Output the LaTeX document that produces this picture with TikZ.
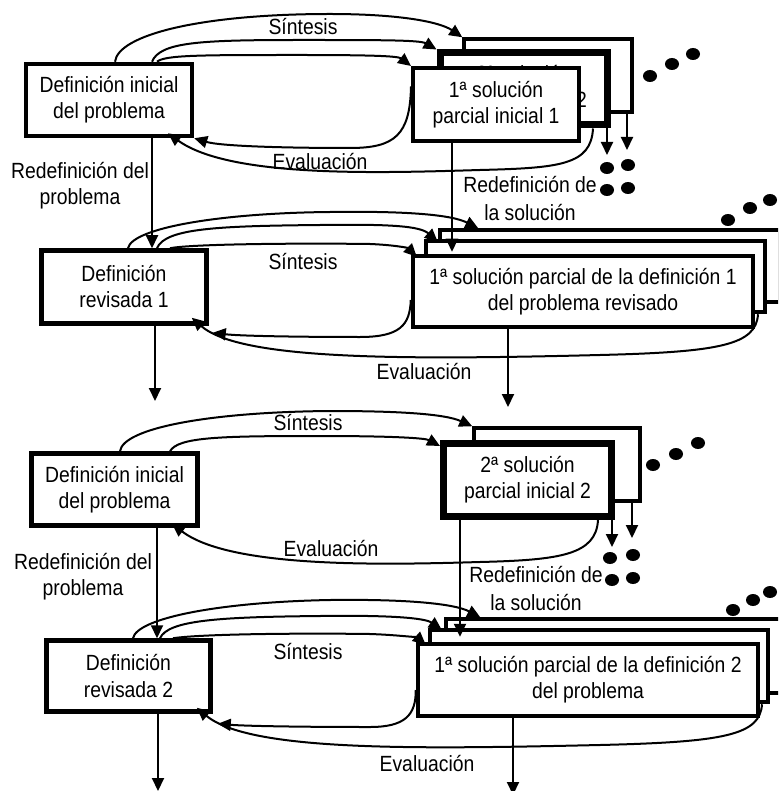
\documentclass[tikz,border=0pt]{standalone}
\usepackage{fontspec}
\setmainfont{Liberation Sans}[FakeStretch=0.88]
\usetikzlibrary{arrows.meta}
\begin{document}
\begin{tikzpicture}[x=1pt,y=-1pt,
  every node/.style={font=\fontsize{22pt}{26pt}\selectfont},
  box/.style={draw,fill=white,inner sep=0pt,align=center,line width=4.5pt},
  lbl/.style={inner sep=0pt,align=center},
  con/.style={line width=2pt,-{Triangle[length=13pt,width=12pt]}},
  ln/.style={line width=2pt},
  dotf/.style={fill=black}
]
\useasboundingbox (0,0) rectangle (778,791);
\clip (0,0) rectangle (778,791);

% ---------------- boxes ----------------
% panel 1
\node[box,minimum width=166pt,minimum height=72pt] (A) at (109,100) {Definición inicial\\del problema};
\node[box,line width=3.5pt,minimum width=168pt,minimum height=73pt] (S3) at (548,75.5) {3ª solución\\parcial inicial 3};
\node[box,line width=7pt,minimum width=167pt,minimum height=72pt] (S2) at (523.5,89) {2ª solución\\parcial inicial 2};
\node[box,line width=4pt,minimum width=166pt,minimum height=73pt] (S1) at (496,104.5) {1ª solución\\parcial inicial 1};
% panel 2
\node[box,minimum width=165pt,minimum height=73pt] (B) at (124,287) {Definición\\revisada 1};
\node[box,line width=3.5pt,minimum width=340pt,minimum height=72pt] (D3) at (610,266) {};
\node[box,minimum width=339pt,minimum height=71pt] (D2) at (595.5,276.5) {};
\node[box,minimum width=340pt,minimum height=71pt] (D1) at (583,291.5) {1ª solución parcial de la definición 1\\del problema revisado};
% panel 3
\node[box,minimum width=166pt,minimum height=72pt] (E) at (114.5,489.5) {Definición inicial\\del problema};
\node[box,line width=3.5pt,minimum width=166pt,minimum height=73pt] (F2) at (557,464.5) {};
\node[box,line width=7pt,minimum width=168pt,minimum height=73pt] (F1) at (527.5,480) {2ª solución\\parcial inicial 2};
% panel 4
\node[box,minimum width=164pt,minimum height=71pt] (G) at (128.5,676) {Definición\\revisada 2};
\node[box,line width=3.5pt,minimum width=335pt,minimum height=74pt] (H3) at (613.5,656) {};
\node[box,minimum width=338pt,minimum height=72pt] (H2) at (599,666) {};
\node[box,minimum width=340pt,minimum height=72pt] (H1) at (588,680) {1ª solución parcial de la definición 2\\del problema};

% free ends
\coordinate (s2d) at (607,155);
\coordinate (s3d) at (627,150);
\coordinate (bd) at (155,401);
\coordinate (d1d) at (508,407);
\coordinate (f1d) at (612,547);
\coordinate (f2d) at (632,538);
\coordinate (gd) at (158,791);
\coordinate (h1d) at (513,795);

% ---------------- panel 1 connectors ----------------
\draw[con] ([xshift=6pt]A.north) .. controls (118,35) and (200,14) .. (330,14) .. controls (400,14) and (440,22) .. (S3.north west);
\draw[con] ([xshift=43pt]A.north) .. controls (160,42) and (200,40) .. (300,40) .. controls (380,40) and (420,40) .. (S2.north west);
\draw[con] ([xshift=48pt]A.north) .. controls (165,55) and (200,55) .. (300,55) .. controls (370,55) and (398,56) .. (S1.north west);
\draw[con] ([yshift=18pt]S1.west) .. controls (410,135) and (395,148) .. (350,148) .. controls (280,148) and (220,146) .. (A.south east);
\draw[con] ([xshift=-17.5pt]S2.south east) .. controls (591,165) and (560,168) .. (480,170) .. controls (380,173) and (230,178) .. ([xshift=59pt,yshift=5pt]A.south);
\draw[con] ([xshift=43pt]A.south) -- ([xshift=28pt]B.north);
\draw[con] ([xshift=-44pt]S1.south) -- ([xshift=-131pt,yshift=2pt]D1.north);
\draw[con] ([xshift=-3.5pt]S2.south east) -- (s2d);
\draw[con] ([xshift=-6.75pt]S3.south east) -- (s3d);

% ---------------- panel 2 connectors ----------------
\draw[con] ([xshift=4pt]B.north) .. controls (132,228) and (220,213) .. (330,212) .. controls (400,211) and (450,214) .. ([xshift=40pt]D3.north west);
\draw[con] ([xshift=33pt]B.north) .. controls (165,228) and (220,226) .. (320,225) .. controls (390,224) and (420,226) .. ([xshift=14pt,yshift=-3pt]D2.north west);
\draw[con] ([xshift=46pt]B.north) .. controls (190,244) and (300,243) .. (370,244) .. controls (395,245) and (408,248) .. ([xshift=6pt,yshift=-3pt]D1.north west);
\draw[con] ([yshift=-8.5pt]D1.west) .. controls (410,325) and (400,337) .. (360,337) .. controls (300,337) and (240,336) .. ([xshift=4pt,yshift=-7pt]B.south east);
\draw[con] ([xshift=-9.25pt]D2.south east) .. controls (756,345) and (720,352) .. (600,355) .. controls (400,360) and (240,360) .. ([xshift=-17pt,yshift=8pt]B.south east);
\draw[con] ([xshift=31pt]B.south) -- (bd);
\draw[con] ([xshift=-75pt]D1.south) -- (d1d);

% ---------------- panel 3 connectors ----------------
\draw[con] ([xshift=5.5pt]E.north) .. controls (123,428) and (210,412) .. (330,411) .. controls (400,411) and (445,414) .. (F2.north west);
\draw[con] ([xshift=55.5pt]E.north) .. controls (178,437) and (220,436) .. (320,436) .. controls (390,436) and (425,438) .. ([yshift=-6pt]F1.north west);
\draw[con] ([xshift=-17pt]F1.south east) .. controls (596,555) and (560,560) .. (480,562) .. controls (380,565) and (230,568) .. ([xshift=57.5pt,yshift=4pt]E.south);
\draw[con] ([xshift=42.5pt]E.south) -- ([xshift=28.5pt]G.north);
\draw[con] ([xshift=-67.5pt]F1.south) -- ([xshift=-128pt,yshift=5pt]H1.north);
\draw[con] ([xshift=-3pt]F1.south east) -- (f1d);
\draw[con] ([xshift=-9.75pt]F2.south east) -- (f2d);

% ---------------- panel 4 connectors ----------------
\draw[con] ([xshift=4.5pt]G.north) .. controls (137,618) and (220,602) .. (330,600) .. controls (410,599) and (455,604) .. ([xshift=36pt]H3.north west);
\draw[con] ([xshift=31.5pt]G.north) .. controls (168,620) and (220,617) .. (320,616) .. controls (390,615) and (425,618) .. ([xshift=14pt,yshift=-2pt]H2.north west);
\draw[con] ([xshift=44.5pt]G.north) .. controls (200,634) and (300,633) .. (370,634) .. controls (400,635) and (418,638) .. ([xshift=10pt,yshift=-3pt]H1.north west);
\draw[con] ([yshift=-10pt]H1.west) .. controls (416,715) and (405,727) .. (370,727) .. controls (300,727) and (245,726) .. ([xshift=5pt,yshift=-10pt]G.south east);
\draw[con] ([xshift=-8.25pt]H2.south east) .. controls (760,735) and (725,742) .. (600,745) .. controls (420,749) and (250,752) .. ([xshift=-16pt,yshift=6pt]G.south east);
\draw[con] ([xshift=29.5pt]G.south) -- (gd);
\draw[con] ([xshift=-75pt]H1.south) -- (h1d);

% ---------------- labels ----------------
\node[lbl] (ls1) at (303,27) {Síntesis};
\node[lbl] (le1) at (320,162) {Evaluación};
\node[lbl] (lrp1) at (80,186) {Redefinición del\\problema};
\node[lbl] (lrs1) at (530,199) {Redefinición de\\[2pt]la solución};
\node[lbl] (ls2) at (303,262) {Síntesis};
\node[lbl] (le2) at (424,372) {Evaluación};
\node[lbl] (ls3) at (308,423) {Síntesis};
\node[lbl] (le3) at (331,549) {Evaluación};
\node[lbl] (lrp3) at (83,577) {Redefinición del\\problema};
\node[lbl] (lrs3) at (536,589) {Redefinición de\\[2pt]la solución};
\node[lbl] (ls4) at (308,652) {Síntesis};
\node[lbl] (le4) at (427,763) {Evaluación};

% ---------------- dots ----------------
\foreach \p in {(650,76),(672,64),(693,54),(607,168),(628,165),(607,190),(628,188),
                (728,220),(750,208),(770,200),
                (653,465),(676,454),(698,443),(610,558),(633,555),(612,580),(633,578),
                (733,610),(753,600),(770,592)}
  \fill[dotf] \p ellipse [x radius=7pt,y radius=6pt];
\end{tikzpicture}
\end{document}
